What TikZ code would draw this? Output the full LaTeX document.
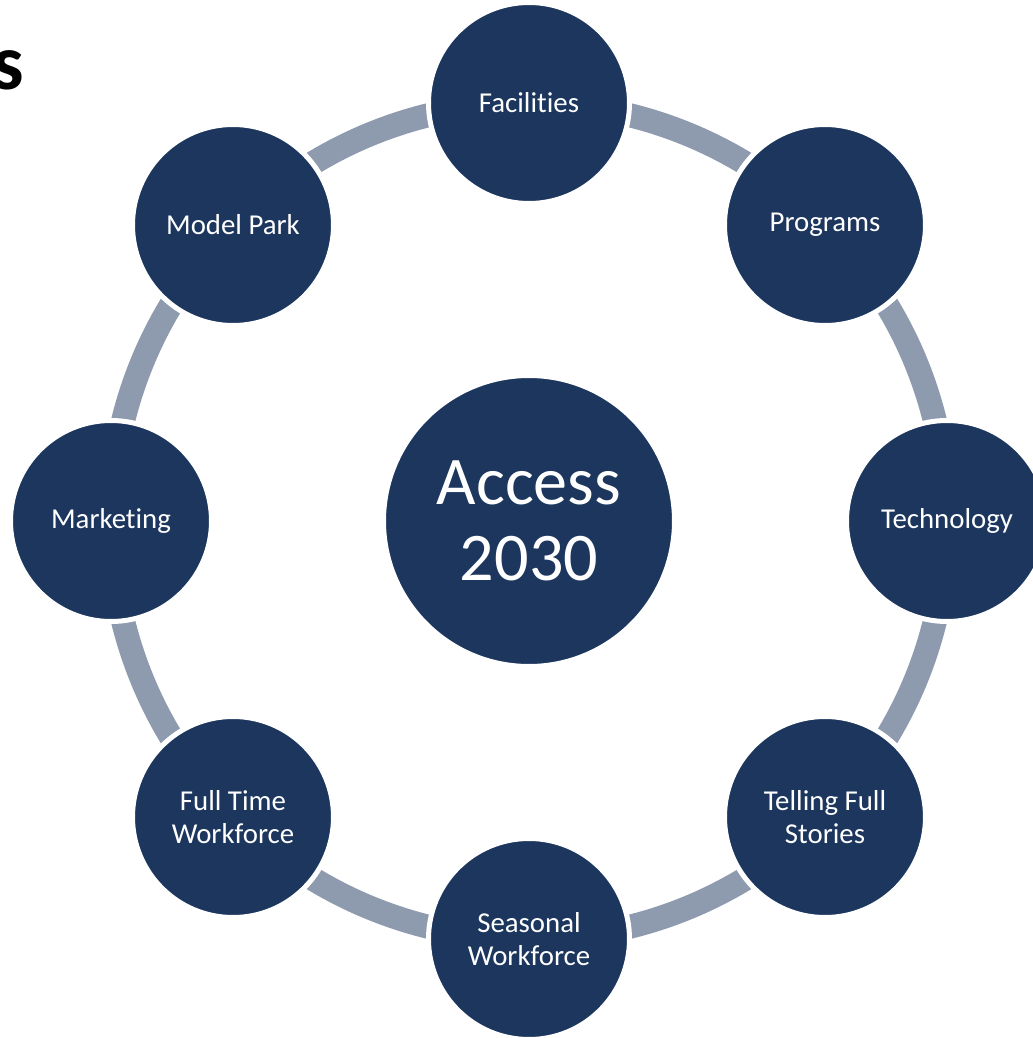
\documentclass[tikz,border=0pt]{standalone}
\usepackage{fontspec}
\setmainfont{Carlito}[RawFeature=-liga]
\usetikzlibrary{backgrounds}

\definecolor{navy}{RGB}{28,54,94}
\definecolor{ringgray}{RGB}{142,155,175}

\begin{document}
\begin{tikzpicture}[
    hub/.style={circle, fill=navy, draw=white, line width=0.5mm, minimum size=2.91cm, inner sep=0pt, align=center, text=white, font=\fontsize{19.4}{21.5}\selectfont},
    spoke/.style={circle, fill=navy, draw=white, line width=0.5mm, minimum size=2.01cm, inner sep=0pt, align=center, text=white, font=\fontsize{8.2}{9.2}\selectfont},
    ring/.style={draw=ringgray, line width=2.4mm}
]

\useasboundingbox (0,0) rectangle (10.32,10.38);

% Title remainder
\node[anchor=base east, inner sep=0pt, font=\fontsize{22.5}{24}\selectfont\bfseries] (title) at (0.25, 9.49) {s};

% Center
\node[hub] (access) at (5.29, 5.17) {Access\\2030};

% Outer circles
\node[spoke] (facilities) at (5.29, 9.35) {Facilities};
\node[spoke] (programs) at (8.25, 8.13) {Programs};
\node[spoke] (technology) at (9.47, 5.17) {Technology};
\node[spoke] (stories) at (8.25, 2.21) {Telling Full\\Stories};
\node[spoke] (seasonal) at (5.29, 0.99) {Seasonal\\Workforce};
\node[spoke] (fulltime) at (2.33, 2.21) {Full Time\\Workforce};
\node[spoke] (marketing) at (1.11, 5.17) {Marketing};
\node[spoke] (modelpark) at (2.33, 8.13) {Model Park};

% Ring
\begin{scope}[on background layer]
\draw[ring] (access.center) circle (4.18);
\end{scope}

\end{tikzpicture}
\end{document}
